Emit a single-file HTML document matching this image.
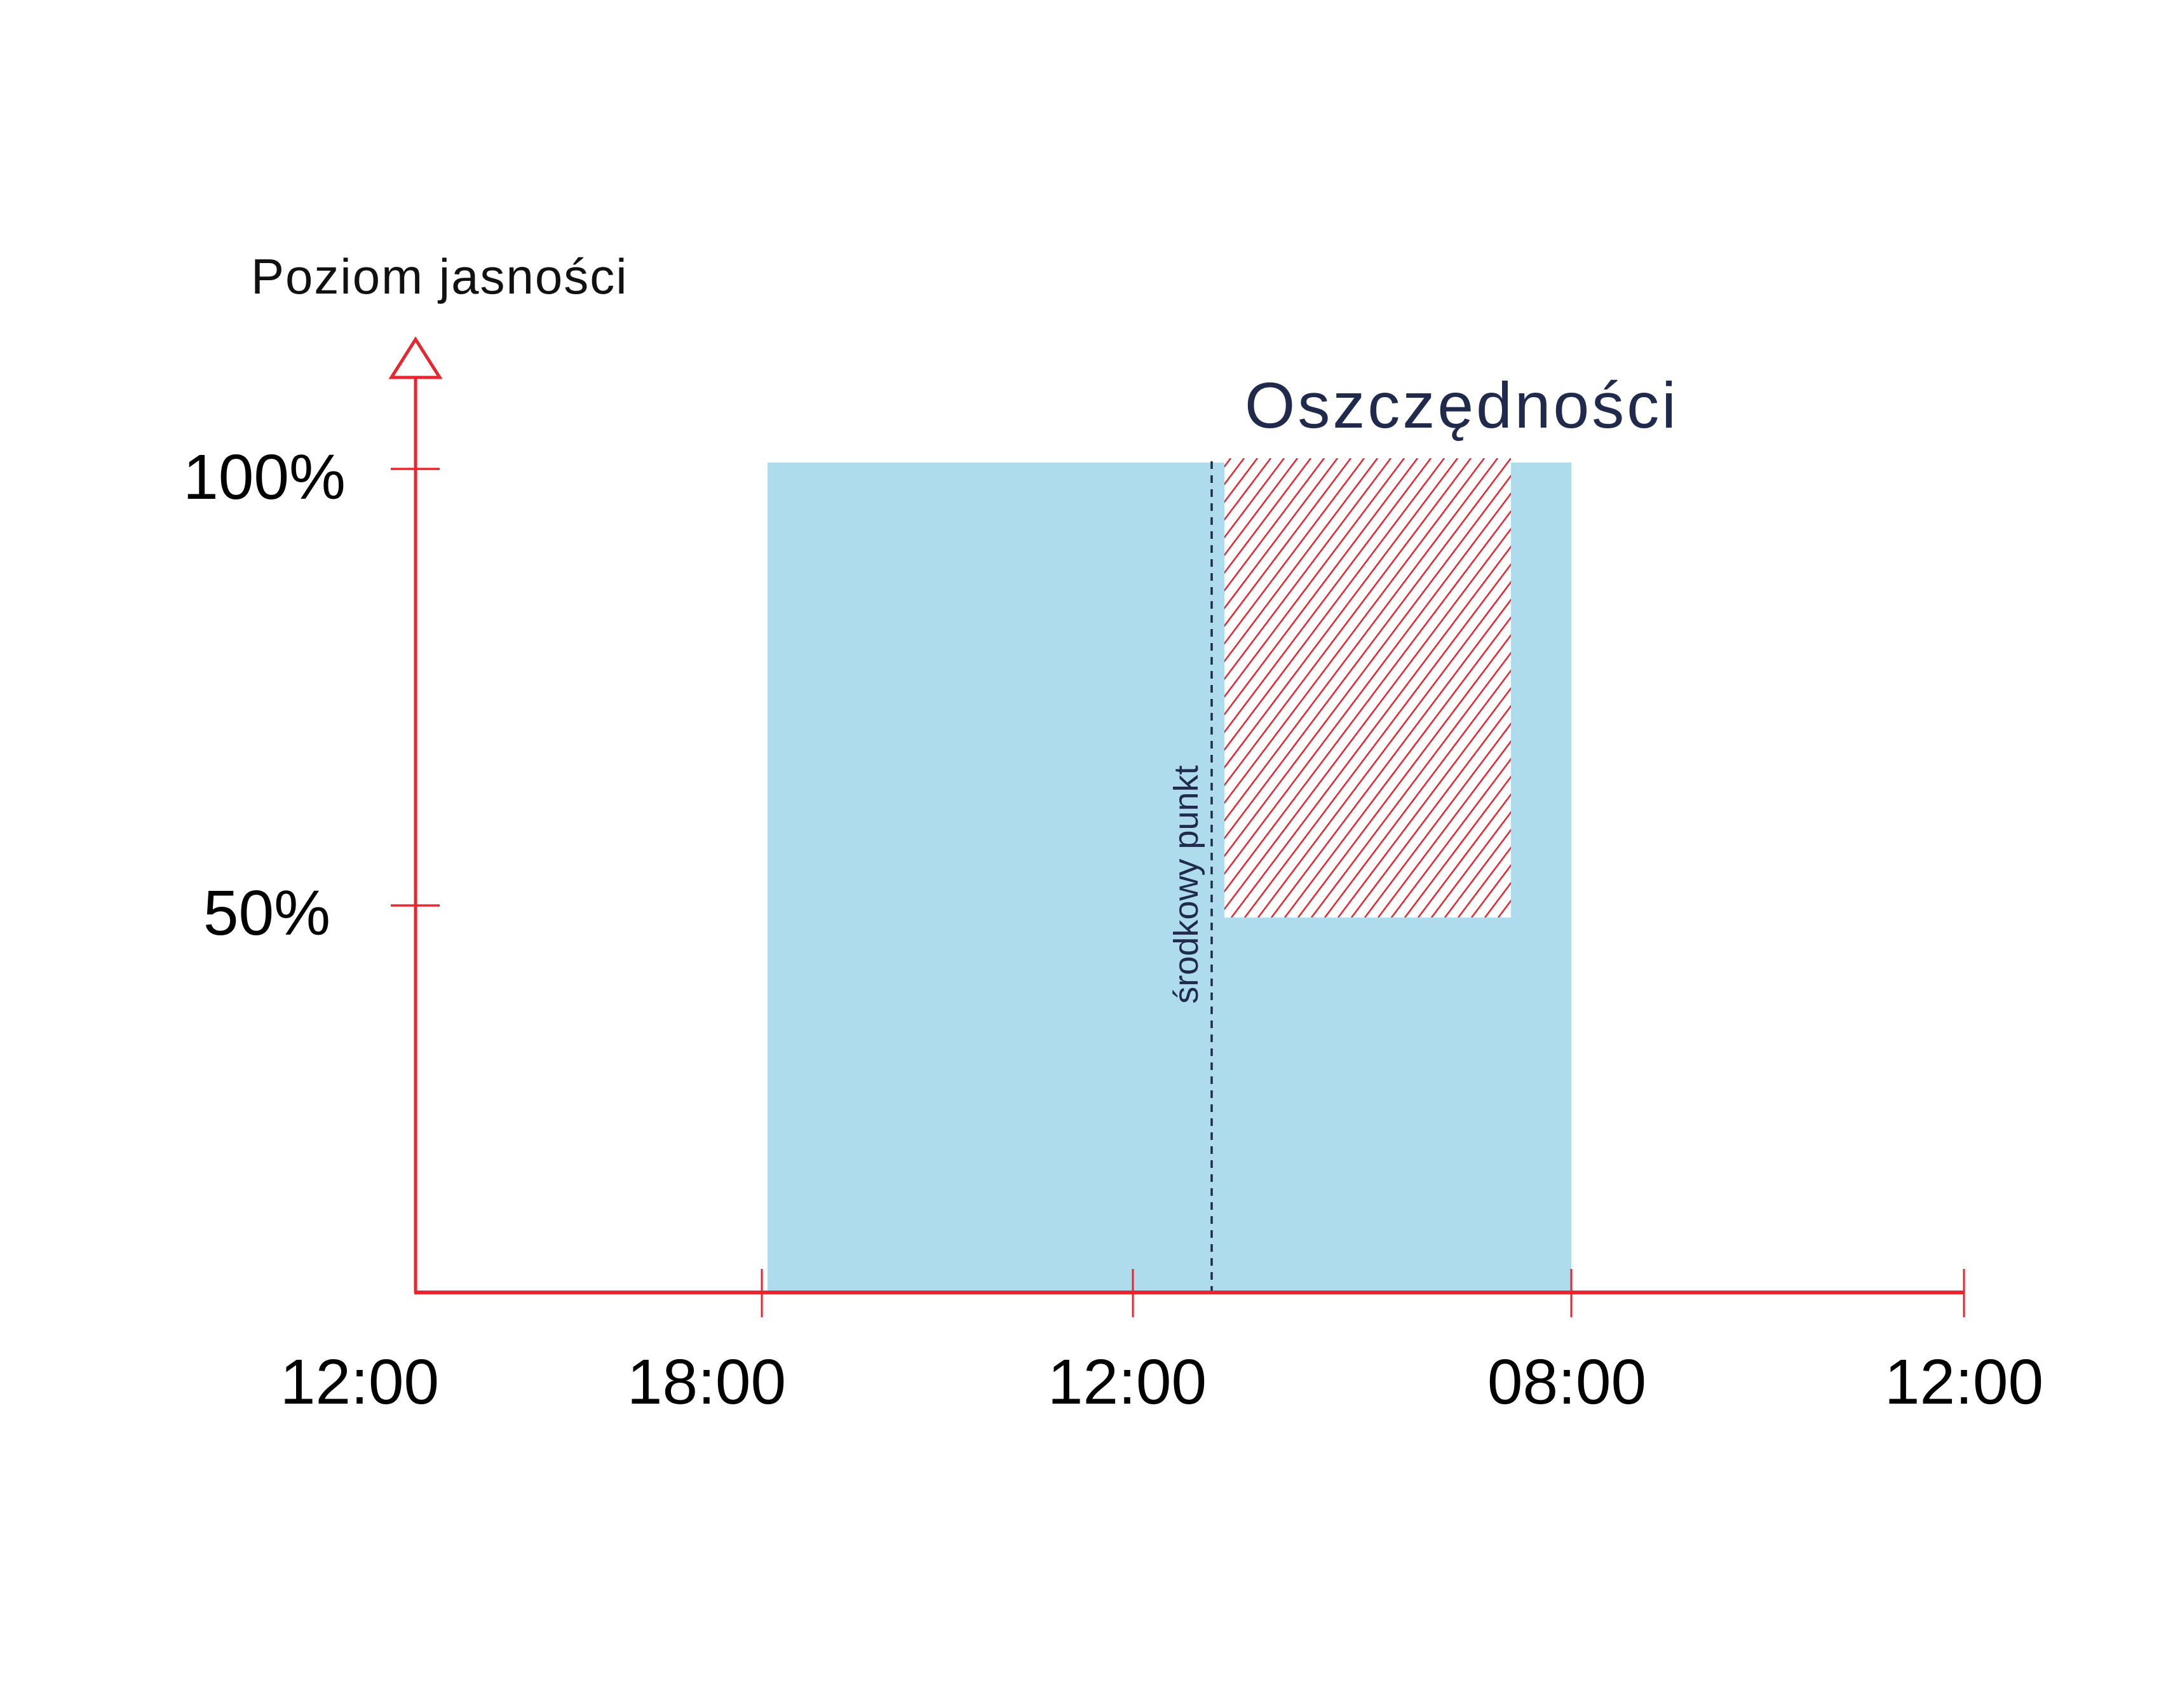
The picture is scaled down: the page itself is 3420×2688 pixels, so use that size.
<!DOCTYPE html>
<html><head><meta charset="utf-8"><style>
html,body{margin:0;padding:0;background:#fff;}
svg{display:block;}
</style></head><body>
<svg width="3420" height="2688" viewBox="0 0 3420 2688" xmlns="http://www.w3.org/2000/svg">
<defs>
<clipPath id="c"><rect x="1927" y="721" width="451" height="723"/></clipPath>
</defs>
<rect x="1208" y="728" width="1265" height="1306" fill="#aedcec"/>
<rect x="1927" y="721" width="451" height="723" fill="#fff"/>
<g clip-path="url(#c)" stroke="#e8262f" stroke-width="2.5">
<path d="M1350,1444 L1895,721 M1371,1444 L1916,721 M1392,1444 L1937,721 M1413,1444 L1958,721 M1434,1444 L1979,721 M1455,1444 L2000,721 M1476,1444 L2021,721 M1497,1444 L2042,721 M1518,1444 L2063,721 M1539,1444 L2084,721 M1560,1444 L2105,721 M1581,1444 L2126,721 M1602,1444 L2147,721 M1623,1444 L2168,721 M1644,1444 L2189,721 M1665,1444 L2210,721 M1686,1444 L2231,721 M1707,1444 L2252,721 M1728,1444 L2273,721 M1749,1444 L2294,721 M1770,1444 L2315,721 M1791,1444 L2336,721 M1812,1444 L2357,721 M1833,1444 L2378,721 M1854,1444 L2399,721 M1875,1444 L2420,721 M1896,1444 L2441,721 M1917,1444 L2462,721 M1938,1444 L2483,721 M1959,1444 L2504,721 M1980,1444 L2525,721 M2001,1444 L2546,721 M2022,1444 L2567,721 M2043,1444 L2588,721 M2064,1444 L2609,721 M2085,1444 L2630,721 M2106,1444 L2651,721 M2127,1444 L2672,721 M2148,1444 L2693,721 M2169,1444 L2714,721 M2190,1444 L2735,721 M2211,1444 L2756,721 M2232,1444 L2777,721 M2253,1444 L2798,721 M2274,1444 L2819,721 M2295,1444 L2840,721 M2316,1444 L2861,721 M2337,1444 L2882,721 M2358,1444 L2903,721"/>
</g>
<line x1="1907" y1="726" x2="1907" y2="2034" stroke="#1f2a4d" stroke-width="3.5" stroke-dasharray="12 10"/>
<text transform="translate(1885,1392) rotate(-90)" text-anchor="middle" font-family="Liberation Sans, sans-serif" font-size="54" fill="#1f2a4d">środkowy punkt</text>
<text x="1959" y="673" font-family="Liberation Sans, sans-serif" font-size="102" fill="#1f2a4d" letter-spacing="4">Oszczędności</text>
<text x="395" y="462" font-family="Liberation Sans, sans-serif" font-size="78" fill="#111" letter-spacing="2">Poziom jasności</text>
<g stroke="#e8262f" fill="none">
<line x1="654" y1="596" x2="654" y2="2034" stroke-width="5"/>
<line x1="652" y1="2034" x2="3091" y2="2034" stroke-width="6"/>
<polygon points="654,534 616,594 692,594" stroke-width="5"/>
<line x1="615" y1="738" x2="692" y2="738" stroke-width="3.5"/>
<line x1="615" y1="1425" x2="692" y2="1425" stroke-width="3.5"/>
<line x1="1199" y1="1997" x2="1199" y2="2073" stroke-width="3"/>
<line x1="1783" y1="1997" x2="1783" y2="2073" stroke-width="3"/>
<line x1="2473" y1="1997" x2="2473" y2="2073" stroke-width="3"/>
<line x1="3091" y1="1997" x2="3091" y2="2073" stroke-width="3"/>
</g>
<g font-family="Liberation Sans, sans-serif" font-size="100" fill="#000" text-anchor="middle">
<text x="416" y="785">100%</text>
<text x="420" y="1471">50%</text>
<text x="566" y="2209">12:00</text>
<text x="1112" y="2209">18:00</text>
<text x="1774" y="2209">12:00</text>
<text x="2466" y="2209">08:00</text>
<text x="3091" y="2209">12:00</text>
</g>
</svg>
</body></html>
